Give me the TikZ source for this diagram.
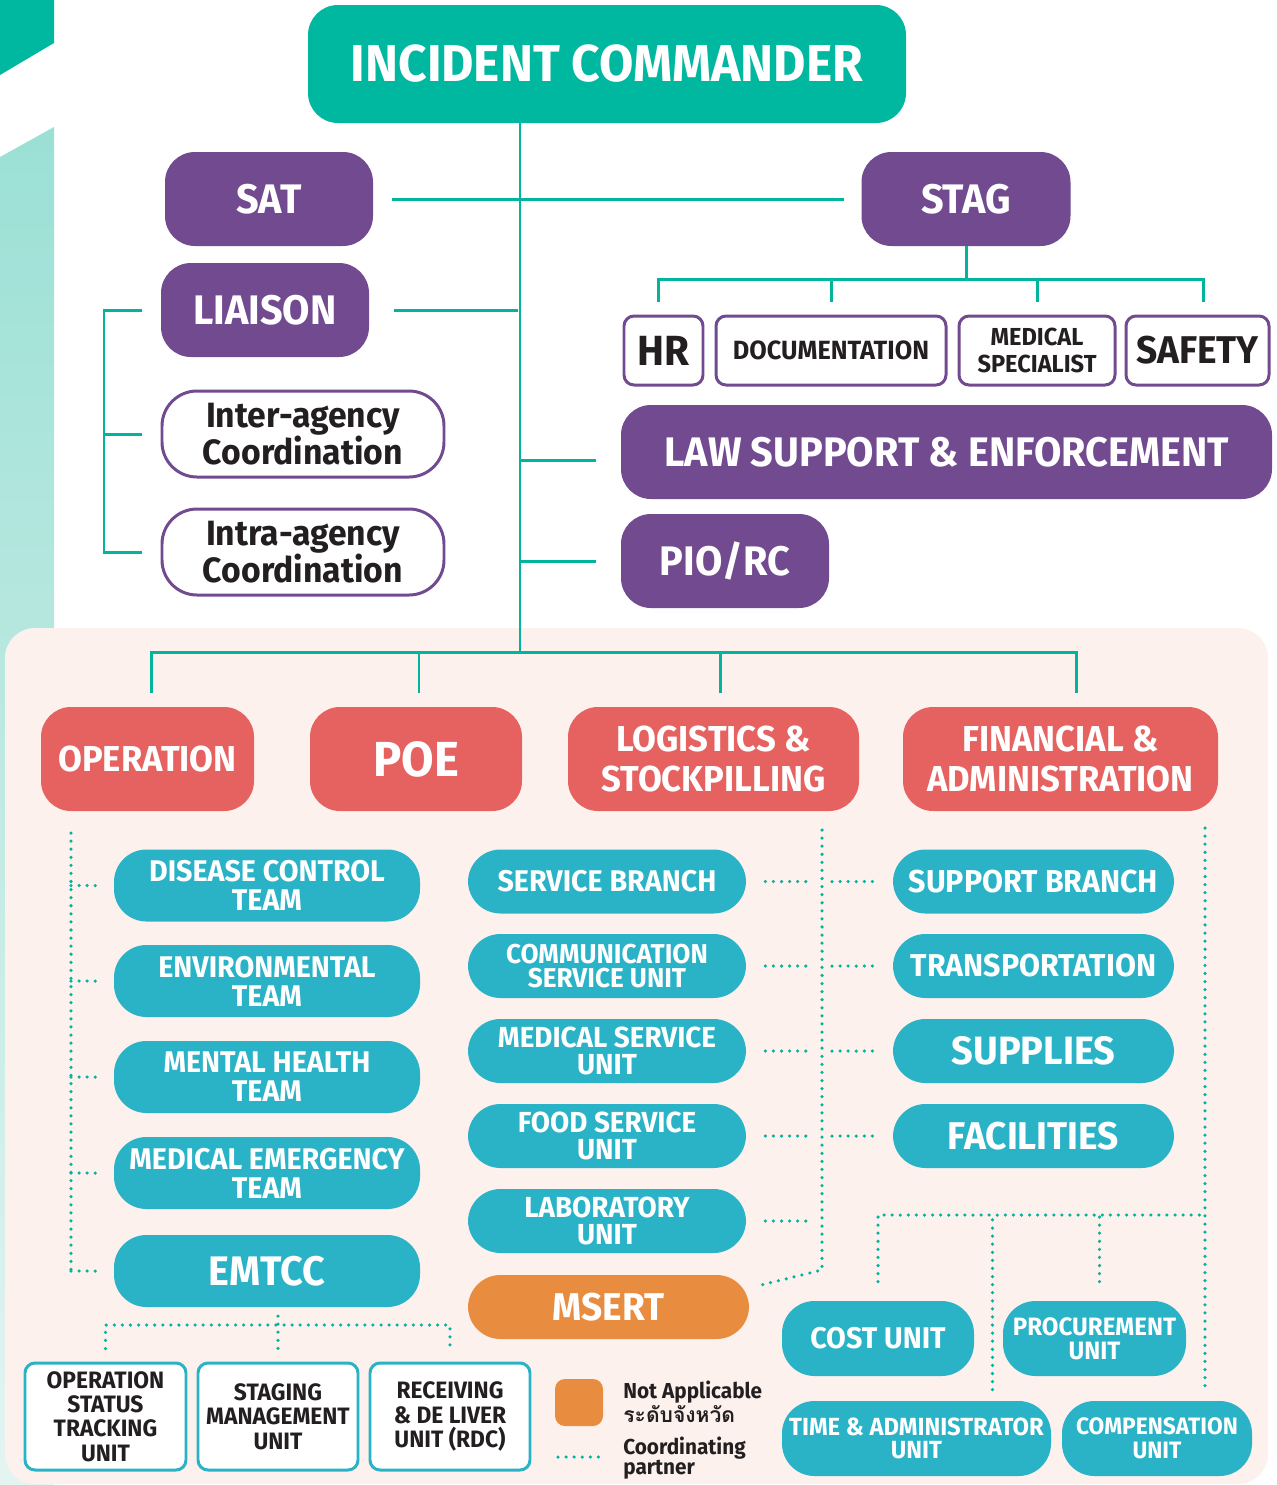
\documentclass[tikz,border=0pt]{standalone}
\usepackage{fontspec}
\setmainfont{Fira Sans}[FakeStretch=0.96]
\newfontfamily\thaifont[Script=Thai]{Loma}
\usetikzlibrary{positioning}

\definecolor{icteal}{RGB}{0,183,160}
\definecolor{lineteal}{RGB}{0,180,158}
\definecolor{cmdpurple}{RGB}{113,74,143}
\definecolor{secred}{RGB}{230,98,97}
\definecolor{unitcyan}{RGB}{42,179,199}
\definecolor{naorange}{RGB}{232,140,64}
\definecolor{panelpink}{RGB}{252,241,237}
\definecolor{striptop}{RGB}{155,224,213}
\definecolor{stripbot}{RGB}{228,244,241}
\definecolor{inkdark}{RGB}{35,31,32}

\tikzset{sz/.style 2 args={minimum width=#1*0.02cm, minimum height=#2*0.02cm}}

\begin{document}
\begin{tikzpicture}[x=0.02cm, y=-0.02cm]

% Set the canvas and the background pieces
\useasboundingbox (0,0) rectangle (1276,1485);
\fill[icteal] (0,0) -- (54,0) -- (54,43) -- (0,75) -- cycle;
\shade[top color=striptop, bottom color=stripbot] (0,157) -- (54,127) -- (54,1485) -- (0,1485) -- cycle;
\fill[panelpink, rounded corners=0.6cm] (5,628) rectangle (1268,1484);

% Define styles for boxes
\tikzstyle{box} = [rectangle, inner sep=0pt, align=center, font=\bfseries]
\tikzstyle{icbox} = [box, rounded corners=0.6cm, fill=icteal, text=white, font=\bfseries\fontsize{29.5}{32}\selectfont]
\tikzstyle{cmdbox} = [box, rounded corners=0.6cm, fill=cmdpurple, text=white, font=\bfseries\fontsize{23.5}{26}\selectfont]
\tikzstyle{staffbox} = [box, rounded corners=0.2cm, fill=white, draw=cmdpurple, line width=1.7pt, text=inkdark]
\tikzstyle{liaisbox} = [box, rounded corners=0.7cm, fill=white, draw=cmdpurple, line width=1.7pt, text=inkdark, font=\bfseries\fontsize{20}{21}\selectfont]
\tikzstyle{secbox} = [box, rounded corners=0.6cm, fill=secred, text=white, font=\bfseries\fontsize{20.5}{23}\selectfont]
\tikzstyle{unitbox} = [box, rounded corners=0.65cm, fill=unitcyan, text=white, font=\bfseries\fontsize{17}{16.5}\selectfont]
\tikzstyle{nabox} = [unitbox, fill=naorange]
\tikzstyle{subbox} = [box, rounded corners=0.2cm, fill=white, draw=unitcyan, line width=1.7pt, text=inkdark, font=\bfseries\fontsize{13.5}{13.9}\selectfont]

% Define styles for connectors
\tikzstyle{orgline} = [draw=lineteal, line width=1.7pt]
\tikzstyle{partner} = [draw=lineteal, line width=2pt, line cap=round, dash pattern=on 0pt off 4.6pt]

% Command and staff
\node[icbox, sz={598}{118}] (ic) at (607,64) {INCIDENT COMMANDER};
\node[cmdbox, sz={208}{94}] (sat) at (269,199) {SAT};
\node[cmdbox, sz={209}{94}] (stag) at (966,199) {STAG};
\node[cmdbox, sz={208}{94}] (liaison) at (265,310) {LIAISON};
\node[liaisbox, sz={282}{86}] (inter) at (303,434) {Inter-agency\\Coordination};
\node[liaisbox, sz={282}{86}] (intra) at (303,552) {Intra-agency\\Coordination};
\node[staffbox, sz={79}{69}, font=\bfseries\fontsize{24}{26}\selectfont] (hr) at (663.5,350.5) {HR};
\node[staffbox, sz={230}{69}, font=\bfseries\fontsize{15}{16}\selectfont] (doc) at (831,350.5) {DOCUMENTATION};
\node[staffbox, sz={156}{69}, font=\bfseries\fontsize{14}{15}\selectfont] (medspec) at (1037,350.5) {MEDICAL\\SPECIALIST};
\node[staffbox, sz={143}{69}, font=\bfseries\fontsize{22}{24}\selectfont] (safety) at (1197.5,350.5) {SAFETY};
\node[cmdbox, sz={651}{94}] (law) at (946.5,452) {LAW SUPPORT \& ENFORCEMENT};
\node[cmdbox, sz={208}{94}] (pio) at (725,561) {PIO/RC};

% Sections
\node[secbox, sz={213}{104}] (op) at (147.5,759) {OPERATION};
\node[secbox, sz={212}{104}, font=\bfseries\fontsize{28}{30}\selectfont] (poe) at (416,759) {POE};
\node[secbox, sz={291}{104}] (log) at (713.5,759) {LOGISTICS \&\\STOCKPILLING};
\node[secbox, sz={315}{104}] (fin) at (1060.5,759) {FINANCIAL \&\\ADMINISTRATION};

% Operation teams
\node[unitbox, sz={306}{72}] (dis) at (267,885.5) {DISEASE CONTROL\\TEAM};
\node[unitbox, sz={306}{72}] (env) at (267,981) {ENVIRONMENTAL\\TEAM};
\node[unitbox, sz={306}{72}] (men) at (267,1077) {MENTAL HEALTH\\TEAM};
\node[unitbox, sz={306}{72}] (medem) at (267,1173) {MEDICAL EMERGENCY\\TEAM};
\node[unitbox, sz={306}{72}, font=\bfseries\fontsize{23.5}{25}\selectfont] (emt) at (267,1271) {EMTCC};
\node[subbox, sz={161}{107}] (ostu) at (105.5,1416.5) {OPERATION\\STATUS\\TRACKING\\UNIT};
\node[subbox, sz={160}{107}] (smu) at (278,1416.5) {STAGING\\MANAGEMENT\\UNIT};
\node[subbox, sz={160}{107}] (rdc) at (450,1416.5) {RECEIVING\\\& DE LIVER\\UNIT (RDC)};

% Logistics units
\node[unitbox, sz={278}{64}, font=\bfseries\fontsize{17}{15}\selectfont] (svc) at (607,881.5) {SERVICE BRANCH};
\node[unitbox, sz={278}{64}, font=\bfseries\fontsize{15.5}{14}\selectfont] (comm) at (607,966) {COMMUNICATION\\SERVICE UNIT};
\node[unitbox, sz={278}{64}, font=\bfseries\fontsize{16.5}{15.5}\selectfont] (medsvc) at (607,1051) {MEDICAL SERVICE\\UNIT};
\node[unitbox, sz={278}{64}, font=\bfseries\fontsize{16.5}{15.5}\selectfont] (food) at (607,1136) {FOOD SERVICE\\UNIT};
\node[unitbox, sz={278}{64}, font=\bfseries\fontsize{16.5}{15.5}\selectfont] (lab) at (607,1221) {LABORATORY\\UNIT};
\node[nabox, sz={281}{64}, font=\bfseries\fontsize{22}{24}\selectfont] (msert) at (608.5,1307) {MSERT};
\node[unitbox, sz={281}{64}, font=\bfseries\fontsize{18}{20}\selectfont] (sup) at (1033.5,881.5) {SUPPORT BRANCH};
\node[unitbox, sz={281}{64}, font=\bfseries\fontsize{18}{20}\selectfont] (trans) at (1033.5,966) {TRANSPORTATION};
\node[unitbox, sz={281}{64}, font=\bfseries\fontsize{22.5}{24}\selectfont] (supl) at (1033.5,1051) {SUPPLIES};
\node[unitbox, sz={281}{64}, font=\bfseries\fontsize{22}{24}\selectfont] (fac) at (1033.5,1136) {FACILITIES};

% Finance units
\node[unitbox, sz={192}{75}] (cost) at (878,1338.5) {COST UNIT};
\node[unitbox, sz={183}{75}, font=\bfseries\fontsize{14.3}{13.5}\selectfont] (proc) at (1094.5,1338.5) {PROCUREMENT\\UNIT};
\node[unitbox, sz={269}{75}, font=\bfseries\fontsize{14.1}{13.5}\selectfont] (time) at (916.5,1438.5) {TIME \& ADMINISTRATOR\\UNIT};
\node[unitbox, sz={190}{75}, font=\bfseries\fontsize{13.5}{13.5}\selectfont] (comp) at (1157,1438.5) {COMPENSATION\\UNIT};

% Legend
\node[nabox, sz={48}{47}, rounded corners=0.2cm] (nakey) at (579,1402.5) {};
\node[anchor=west, align=left, inner sep=0pt, text=inkdark, font=\bfseries\fontsize{12.3}{11.5}\selectfont] (natext) at (623,1402) {Not Applicable\\{\thaifont\bfseries\fontsize{12}{11.5}\selectfont ระดับจังหวัด}};
\coordinate (keyL) at (558,1457);
\coordinate (keyR) at (602,1457);
\node[anchor=west, align=left, inner sep=0pt, text=inkdark, font=\bfseries\fontsize{12.3}{11}\selectfont] (cptext) at (623,1458) {Coordinating\\partner};

% Command connectors
\coordinate (trunk) at (520,652);
\draw[orgline] (ic.south -| trunk) -- (trunk);
\draw[orgline, shorten <=0.38cm, shorten >=0.34cm] (sat.east) -- (stag.west);
\draw[orgline, shorten <=0.5cm] (liaison.east) -- ([xshift=-0.04cm]liaison.east -| trunk);
\draw[orgline, shorten <=0.5cm] ([yshift=-0.16cm]law.west) -- ([yshift=-0.16cm]law.west -| trunk);
\draw[orgline, shorten <=0.5cm] (pio.west) -- (pio.west -| trunk);

% Liaison bracket
\coordinate (brk) at (104,310);
\draw[orgline] ([xshift=-0.38cm]liaison.west) -- (brk) |- ([xshift=-0.38cm]intra.west);
\draw[orgline] ([xshift=-0.38cm]inter.west) -- (inter.west -| brk);

% Staff under STAG
\coordinate (stagbar) at (966,279);
\draw[orgline] (stag.south) -- (stagbar);
\draw[orgline] ([xshift=-0.1cm, yshift=0.26cm]hr.north) |- (stagbar) -| ([xshift=0.12cm, yshift=0.26cm]safety.north);
\draw[orgline] ([yshift=0.26cm]doc.north) -- (doc.north |- stagbar);
\draw[orgline] ([yshift=0.26cm]medspec.north) -- (medspec.north |- stagbar);

% Sections under the trunk
\draw[orgline] ([xshift=0.08cm, yshift=0.28cm]op.north) |- (trunk) -| ([xshift=0.32cm, yshift=0.28cm]fin.north);
\draw[orgline] ([xshift=0.06cm, yshift=0.28cm]poe.north) -- ([xshift=0.06cm]poe.north |- trunk);
\draw[orgline] ([xshift=0.14cm, yshift=0.28cm]log.north) -- ([xshift=0.14cm]log.north |- trunk);

% Coordinating partners: operation
\coordinate (opTop) at (71,833);
\draw[partner] (opTop) -- (opTop |- emt.west);
\foreach \t in {dis,env,men,medem,emt}
    \draw[partner] (opTop |- \t.west) -- ([xshift=-0.22cm]\t.west);
\coordinate (rowTop) at (278,1316);
\coordinate (rowBar) at (278,1325);
\draw[partner] (rowTop) -- ([yshift=0.26cm]smu.north);
\draw[partner] ([yshift=0.26cm]ostu.north) |- (rowBar) -| ([yshift=0.26cm]rdc.north);

% Coordinating partners: logistics
\coordinate (logTop) at (822,830);
\coordinate (logBot) at (822,1270);
\draw[partner] (logTop) -- (logBot) -- ([xshift=0.18cm, yshift=-0.22cm]msert.north east);
\foreach \t/\u in {svc/sup,comm/trans,medsvc/supl,food/fac} {
    \draw[partner] ([xshift=0.38cm]\t.east) -- ([xshift=-0.2cm]\t.east -| logTop);
    \draw[partner] ([xshift=0.2cm]\u.west -| logTop) -- ([xshift=-0.32cm]\u.west);
}
\draw[partner] ([xshift=0.38cm]lab.east) -- ([xshift=-0.2cm]lab.east -| logTop);

% Coordinating partners: finance
\coordinate (finTop) at (1205,828);
\coordinate (finBar) at (1205,1215);
\draw[partner] (finTop) -- ([xshift=0.96cm, yshift=0.26cm]comp.north);
\draw[partner] ([yshift=0.38cm]cost.north) |- (finBar);
\draw[partner] ([xshift=0.1cm, yshift=0.38cm]proc.north) -- ([xshift=0.1cm]proc.north |- finBar);
\draw[partner] ([xshift=1.52cm, yshift=0.22cm]time.north) -- ([xshift=1.52cm]time.north |- finBar);

% Legend key line
\draw[partner] (keyL) -- (keyR);

\end{tikzpicture}
\end{document}
